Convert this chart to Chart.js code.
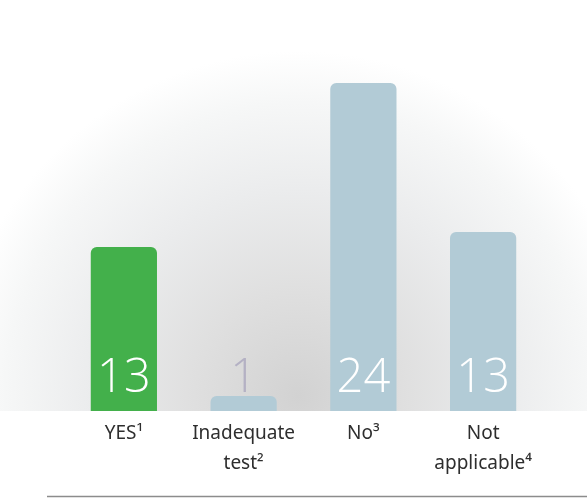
<!DOCTYPE html>
<html>
<head>
<meta charset="utf-8">
<script src="https://cdn.jsdelivr.net/npm/chart.js@4/dist/chart.umd.min.js"></script>
<style>
  html, body { margin: 0; padding: 0; background: #fff; }
  #wrap { width: 587px; height: 498px; position: relative; }
</style>
</head>
<body>
<div id="wrap"><canvas id="resultChart"></canvas></div>
<script>
const categories = [["YES\u00B9"], ["Inadequate", "test\u00B2"], ["No\u00B3"], ["Not", "applicable\u2074"]];
// bar heights as drawn, and the numbers printed on them
const barValues = [12, 1.1, 24, 13.1];
const valueLabels = ["13", "1", "24", "13"];
const barColors = ["#43b04b", "#b2cbd6", "#b2cbd6", "#b2cbd6"];
const labelColors = ["#ffffff", "#b4b1c4", "#ffffff", "#ffffff"];

const labelFont = "'Noto Sans', 'Open Sans', sans-serif";
const numberFont = "'Open Sans', 'Noto Sans', sans-serif";

const backdrop = {
  id: "backdrop",
  beforeDraw(chart) {
    const ctx = chart.ctx;
    const area = chart.chartArea;
    const cx = (area.left + area.right) / 2 - 5;
    const cy = area.bottom - 15;
    const g = ctx.createRadialGradient(cx, cy, 0, cx, cy, 345);
    g.addColorStop(0, "#d2d2d2");
    g.addColorStop(0.3, "#dfdfdf");
    g.addColorStop(0.6, "#ebeced");
    g.addColorStop(0.85, "#f6f7f7");
    g.addColorStop(1, "#ffffff");
    ctx.save();
    ctx.fillStyle = g;
    ctx.fillRect(0, 0, chart.width, area.bottom);
    ctx.restore();
  },
  afterDraw(chart) {
    const ctx = chart.ctx;
    const yScale = chart.scales.y;
    const meta = chart.getDatasetMeta(0);
    const base = yScale.getPixelForValue(0);
    ctx.save();
    ctx.font = "300 47px " + numberFont;
    ctx.textAlign = "center";
    ctx.textBaseline = "alphabetic";
    meta.data.forEach((bar, i) => {
      ctx.fillStyle = labelColors[i];
      ctx.fillText(valueLabels[i], bar.x, base - 19);
    });
    // rule under the chart
    ctx.strokeStyle = "#8c8c8c";
    ctx.lineWidth = 1.5;
    ctx.beginPath();
    ctx.moveTo(47, chart.height - 1.5);
    ctx.lineTo(chart.width, chart.height - 1.5);
    ctx.stroke();
    ctx.restore();
  }
};

new Chart(document.getElementById("resultChart"), {
  type: "bar",
  data: {
    labels: categories,
    datasets: [{
      data: barValues,
      backgroundColor: barColors,
      borderWidth: 0,
      borderRadius: { topLeft: 6, topRight: 6, bottomLeft: 0, bottomRight: 0 },
      borderSkipped: "bottom",
      categoryPercentage: 1,
      barPercentage: 0.553
    }]
  },
  options: {
    responsive: true,
    maintainAspectRatio: false,
    animation: false,
    layout: { padding: { left: 64, right: 44, top: 83, bottom: 0 } },
    plugins: { legend: { display: false }, tooltip: { enabled: false } },
    scales: {
      x: {
        grid: { display: false, drawTicks: false },
        border: { display: false },
        ticks: {
          color: "#2e2e2e",
          padding: 8,
          font: { family: labelFont, size: 19, lineHeight: 1.55 },
          maxRotation: 0,
          autoSkip: false
        },
        afterFit(scale) { scale.height = 87; }
      },
      y: {
        display: false,
        min: 0,
        max: 24
      }
    }
  },
  plugins: [backdrop]
});
</script>
</body>
</html>
